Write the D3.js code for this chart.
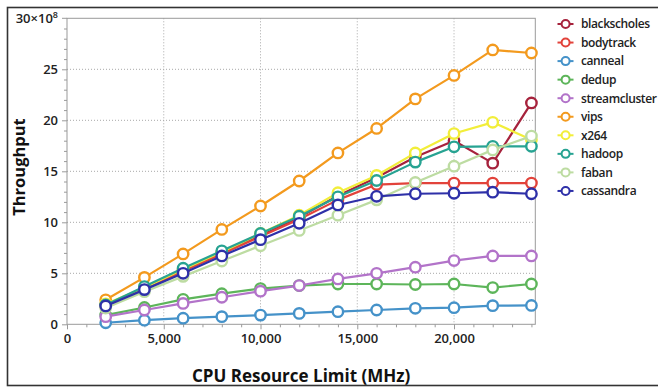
<!DOCTYPE html>
<html>
<head>
<meta charset="utf-8">
<script src="https://cdn.jsdelivr.net/npm/d3@7"></script>
<style>
  html, body { margin: 0; padding: 0; background: #fff; }
  svg { display: block; font-family: "Open Sans", "DejaVu Sans", sans-serif; }
</style>
</head>
<body>
<svg id="chart" width="658" height="387"></svg>
<script>
// ---- data ----
const cpuMHz = [2000, 4000, 6000, 8000, 10000, 12000, 14000, 16000, 18000, 20000, 22000, 24000];
const blackscholes = [1.9, 3.5, 5.3, 7.0, 8.7, 10.5, 12.6, 14.4, 16.4, 18.0, 15.8, 21.7];
const bodytrack = [1.8, 3.5, 5.2, 6.9, 8.6, 10.3, 12.2, 13.7, 13.85, 13.85, 13.85, 13.85];
const canneal = [0.15, 0.4, 0.6, 0.75, 0.9, 1.07, 1.24, 1.4, 1.57, 1.63, 1.83, 1.85];
const dedup = [0.9, 1.65, 2.45, 3.0, 3.5, 3.8, 3.95, 3.95, 3.9, 3.95, 3.6, 3.95];
const streamcluster = [0.75, 1.4, 2.05, 2.65, 3.25, 3.8, 4.45, 5.0, 5.6, 6.25, 6.7, 6.7];
const vips = [2.4, 4.6, 6.9, 9.3, 11.6, 14.05, 16.8, 19.2, 22.1, 24.4, 26.9, 26.6];
const x264 = [2.0, 3.6, 5.4, 7.1, 8.9, 10.7, 12.9, 14.6, 16.8, 18.7, 19.8, 18.1];
const hadoop = [1.9, 3.7, 5.5, 7.2, 8.9, 10.6, 12.5, 14.1, 15.9, 17.4, 17.45, 17.45];
const faban = [1.6, 3.2, 4.7, 6.2, 7.7, 9.2, 10.7, 12.2, 13.9, 15.5, 17.1, 18.45];
const cassandra = [1.8, 3.4, 5.0, 6.7, 8.3, 9.9, 11.7, 12.55, 12.8, 12.85, 12.95, 12.8];

const seriesNames = ["blackscholes", "bodytrack", "canneal", "dedup", "streamcluster", "vips", "x264", "hadoop", "faban", "cassandra"];
const seriesValues = [blackscholes, bodytrack, canneal, dedup, streamcluster, vips, x264, hadoop, faban, cassandra];
const seriesColors = ["#a6223c", "#e2433b", "#4592c9", "#5db55a", "#b273c9", "#f39a1e", "#f2ee3a", "#27a392", "#bddca2", "#2e30a8"];

const xTickLabels = ["0", "5,000", "10,000", "15,000", "20,000"];
const xTickValues = [0, 5000, 10000, 15000, 20000];
const yTickValues = [0, 5, 10, 15, 20, 25];
const yTopLabel = "30×10";
const yTopExp = "8";
const xTitle = "CPU Resource Limit (MHz)";
const yTitle = "Throughput";

// ---- layout ----
const svg = d3.select("#chart");
const L = 67, R = 535.3, T = 18.3, B = 324.3;
const x = d3.scaleLinear().domain([0, 24200]).range([L, R]);
const y = d3.scaleLinear().domain([0, 30]).range([B, T]);
const axisColor = "#9a9a9a";

// outer border
svg.append("rect").attr("x", 7.5).attr("y", 7.5).attr("width", 670).attr("height", 378)
  .attr("fill", "none").attr("stroke", "#333").attr("stroke-width", 1.6);

// gridlines
const grid = svg.append("g");
xTickValues.filter(v => v > 0).forEach(v => {
  grid.append("line").attr("x1", x(v)).attr("x2", x(v)).attr("y1", T).attr("y2", B)
    .attr("stroke", "#a8a8a8").attr("stroke-width", 1).attr("stroke-dasharray", "1,2");
});
yTickValues.filter(v => v > 0).forEach(v => {
  grid.append("line").attr("x1", L).attr("x2", R).attr("y1", y(v)).attr("y2", y(v))
    .attr("stroke", "#a8a8a8").attr("stroke-width", 1).attr("stroke-dasharray", "1,2");
});

// frame
svg.append("rect").attr("x", L).attr("y", T).attr("width", R - L).attr("height", B - T)
  .attr("fill", "none").attr("stroke", axisColor).attr("stroke-width", 1);

// x axis
const xAxisMajor = d3.axisBottom(x).tickValues(xTickValues)
  .tickFormat((d, i) => xTickLabels[i]).tickSize(5).tickPadding(4);
const gx = svg.append("g").attr("transform", `translate(0,${B})`).call(xAxisMajor);
gx.select(".domain").remove();
gx.selectAll(".tick line").attr("stroke", axisColor);
gx.selectAll(".tick text").attr("fill", "#222").attr("font-size", "13px").attr("font-weight", 600)
  .attr("font-family", "'Open Sans', sans-serif");
const xMinor = d3.range(1000, 24001, 1000).filter(v => v % 5000 !== 0);
const gxm = svg.append("g").attr("transform", `translate(0,${B})`)
  .call(d3.axisBottom(x).tickValues(xMinor).tickSize(3).tickFormat(""));
gxm.select(".domain").remove();
gxm.selectAll(".tick line").attr("stroke", axisColor);

// y axis
const gy = svg.append("g").attr("transform", `translate(${L},0)`)
  .call(d3.axisLeft(y).tickValues(yTickValues).tickSize(5).tickPadding(4).tickFormat(d3.format("d")));
gy.select(".domain").remove();
gy.selectAll(".tick line").attr("stroke", axisColor);
gy.selectAll(".tick text").attr("fill", "#222").attr("font-size", "13px").attr("font-weight", 600)
  .attr("font-family", "'Open Sans', sans-serif");
const yMinor = d3.range(1, 30, 1).filter(v => v % 5 !== 0);
const gym = svg.append("g").attr("transform", `translate(${L},0)`)
  .call(d3.axisLeft(y).tickValues(yMinor).tickSize(3).tickFormat(""));
gym.select(".domain").remove();
gym.selectAll(".tick line").attr("stroke", axisColor);
// top tick (30)
svg.append("line").attr("x1", L - 5).attr("x2", L).attr("y1", y(30)).attr("y2", y(30)).attr("stroke", axisColor);
const topLab = svg.append("text").attr("x", 58).attr("y", y(30) + 4.6).attr("text-anchor", "end")
  .attr("font-size", "13px").attr("font-weight", 600).attr("fill", "#222");
topLab.append("tspan").text(yTopLabel);
topLab.append("tspan").attr("dy", -5).attr("font-size", "9px").text(yTopExp);

// titles
svg.append("text").attr("x", (L + R) / 2).attr("y", 381.5).attr("text-anchor", "middle")
  .attr("font-size", "17px").attr("font-weight", 700).attr("fill", "#111").text(xTitle);
svg.append("text").attr("transform", `translate(25,167) rotate(-90)`).attr("text-anchor", "middle")
  .attr("font-size", "16.5px").attr("font-weight", 700).attr("fill", "#111").text(yTitle);

// series
const line = d3.line().x((d, i) => x(cpuMHz[i])).y(d => y(d));
const gs = svg.append("g");
seriesValues.forEach((vals, k) => {
  const g = gs.append("g");
  g.append("path").datum(vals).attr("d", line).attr("fill", "none")
    .attr("stroke", seriesColors[k]).attr("stroke-width", 2.2).attr("stroke-linejoin", "round");
  g.selectAll("circle").data(vals).join("circle")
    .attr("cx", (d, i) => x(cpuMHz[i])).attr("cy", d => y(d)).attr("r", 5.2)
    .attr("fill", "#fff").attr("stroke", seriesColors[k]).attr("stroke-width", 2.4);
});

// legend
const lg = svg.append("g");
seriesNames.forEach((name, k) => {
  const cy = 24 + k * 18.55;
  lg.append("line").attr("x1", 557.5).attr("x2", 573.5).attr("y1", cy).attr("y2", cy)
    .attr("stroke", seriesColors[k]).attr("stroke-width", 2);
  lg.append("circle").attr("cx", 565.6).attr("cy", cy).attr("r", 4).attr("fill", "#fff")
    .attr("stroke", seriesColors[k]).attr("stroke-width", 2);
  lg.append("text").attr("x", 581).attr("y", cy + 4.3).attr("font-size", "12px")
    .attr("letter-spacing", "-0.4px")
    .attr("font-weight", 600).attr("fill", "#222").text(name);
});
</script>
</body>
</html>
